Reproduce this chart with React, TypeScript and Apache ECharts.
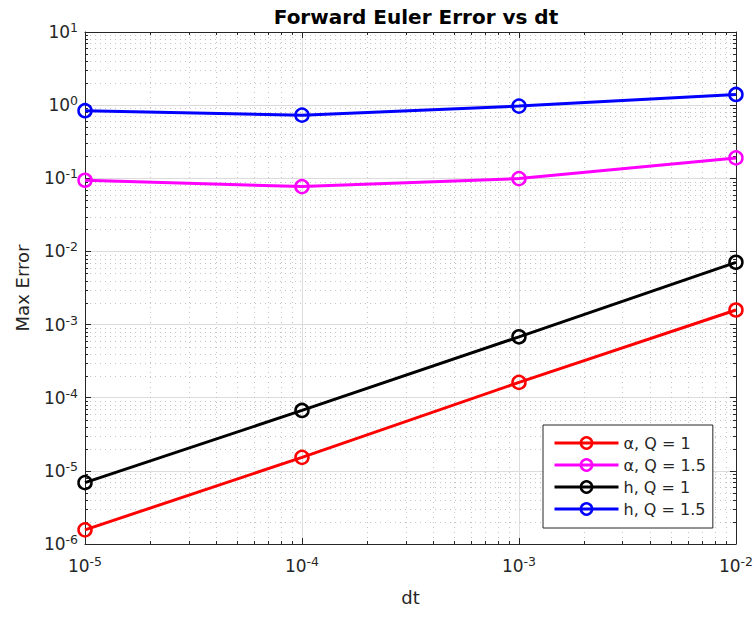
import React, { useEffect, useRef } from "react";
import * as echarts from "echarts";

// Time steps (s) and maximum errors for each case
const dt = [1e-5, 1e-4, 1e-3, 1e-2];
const alphaQ1 = [1.56e-6, 1.53e-5, 1.62e-4, 1.58e-3];
const alphaQ15 = [0.094, 0.077, 0.099, 0.19];
const hQ1 = [6.9e-6, 6.7e-5, 6.8e-4, 7.1e-3];
const hQ15 = [0.84, 0.73, 0.97, 1.4];

const seriesNames = ["α, Q = 1", "α, Q = 1.5", "h, Q = 1", "h, Q = 1.5"];
const seriesColors = ["#ff0000", "#ff00ff", "#000000", "#0000ff"];
const seriesValues = [alphaQ1, alphaQ15, hQ1, hQ15];

// Axis ranges (decades)
const xDecades = [-5, -2];
const yDecades = [-6, 1];

const FONT = "'DejaVu Sans', 'Liberation Sans', Arial, sans-serif";
const TEXT = "#262626";

const expLabel = (v: number) => {
  const e = Math.round(Math.log10(v));
  return `{b|10}{s|${e}}`;
};

const labelRich = {
  b: { fontSize: 17, color: TEXT, fontFamily: FONT },
  s: { fontSize: 12.5, color: TEXT, fontFamily: FONT, padding: [0, 0, 9, 0] },
};

export default function App() {
  const ref = useRef<HTMLDivElement>(null);

  useEffect(() => {
    if (!ref.current) return;
    const chart = echarts.init(ref.current, undefined, { renderer: "svg" });

    const xMin = Math.pow(10, xDecades[0]);
    const xMax = Math.pow(10, xDecades[1]);
    const yMin = Math.pow(10, yDecades[0]);
    const yMax = Math.pow(10, yDecades[1]);

    // Minor log values (2..9 within each decade)
    const minorVals = (d0: number, d1: number) => {
      const out: number[] = [];
      for (let d = d0; d < d1; d++) {
        for (let k = 2; k <= 9; k++) out.push(k * Math.pow(10, d));
      }
      return out;
    };
    const xMinor = minorVals(xDecades[0], xDecades[1]);
    const yMinor = minorVals(yDecades[0], yDecades[1]);

    // Minor grid (dotted) and minor ticks on all four sides of the box
    const minorLayer = {
      type: "custom",
      coordinateSystem: "cartesian2d",
      silent: true,
      z: 1,
      data: [[xMin, yMin]],
      renderItem: (params: any, api: any) => {
        const cs = params.coordSys;
        const left = cs.x;
        const right = cs.x + cs.width;
        const top = cs.y;
        const bottom = cs.y + cs.height;
        const children: any[] = [];
        const dotted = { stroke: "#c4c4c4", lineWidth: 1, lineDash: [1, 4] };
        const tick = { stroke: TEXT, lineWidth: 1 };
        const tl = 3;
        xMinor.forEach((v) => {
          const x = Math.round(api.coord([v, yMin])[0]) + 0.5;
          children.push({ type: "line", shape: { x1: x, y1: top, x2: x, y2: bottom }, style: dotted });
          children.push({ type: "line", shape: { x1: x, y1: bottom, x2: x, y2: bottom - tl }, style: tick });
          children.push({ type: "line", shape: { x1: x, y1: top, x2: x, y2: top + tl }, style: tick });
        });
        yMinor.forEach((v) => {
          const y = Math.round(api.coord([xMin, v])[1]) + 0.5;
          children.push({ type: "line", shape: { x1: left, y1: y, x2: right, y2: y }, style: dotted });
          children.push({ type: "line", shape: { x1: left, y1: y, x2: left + tl, y2: y }, style: tick });
          children.push({ type: "line", shape: { x1: right, y1: y, x2: right - tl, y2: y }, style: tick });
        });
        return { type: "group", children };
      },
    };

    const lineSeries = seriesNames.map((name, i) => ({
      name,
      type: "line",
      z: 3,
      data: dt.map((x, j) => [x, seriesValues[i][j]]),
      symbol: "circle",
      symbolSize: 13,
      lineStyle: { color: seriesColors[i], width: 3 },
      itemStyle: { color: "rgba(255,255,255,0)", borderColor: seriesColors[i], borderWidth: 2.5 },
      emphasis: { disabled: true },
    }));

    const baseAxis = {
      type: "log",
      logBase: 10,
      axisLine: { show: true, lineStyle: { color: TEXT, width: 1 } },
      axisTick: { show: true, inside: true, length: 6, lineStyle: { color: TEXT } },
    };

    chart.setOption({
      animation: false,
      backgroundColor: "#ffffff",
      title: {
        text: "Forward Euler Error vs dt",
        left: 411,
        top: 2,
        textAlign: "center",
        textStyle: { fontFamily: FONT, fontSize: 20, fontWeight: "bold", color: "#000000" },
      },
      legend: {
        data: seriesNames,
        orient: "vertical",
        left: 543,
        top: 425,
        padding: [10, 7, 11, 10],
        itemWidth: 64,
        itemHeight: 14,
        itemGap: 6,
        backgroundColor: "#ffffff",
        borderColor: TEXT,
        borderWidth: 1,
        lineStyle: { width: 3 },
        itemStyle: { borderWidth: 2.5 },
        textStyle: { fontFamily: FONT, fontSize: 16, color: TEXT, width: 82 },
      },
      grid: { left: 85, right: 18, top: 32, bottom: 74 },
      xAxis: [
        {
          ...baseAxis,
          min: xMin,
          max: xMax,
          position: "bottom",
          name: "dt",
          nameLocation: "middle",
          nameGap: 44,
          nameTextStyle: { fontFamily: FONT, fontSize: 18, color: TEXT },
          axisLabel: { formatter: expLabel, rich: labelRich, margin: 11 },
          splitLine: { show: true, lineStyle: { color: "#dcdcdc", width: 1 } },
        },
        {
          ...baseAxis,
          min: xMin,
          max: xMax,
          position: "top",
          axisLabel: { show: false },
          splitLine: { show: false },
        },
      ],
      yAxis: [
        {
          ...baseAxis,
          min: yMin,
          max: yMax,
          position: "left",
          name: "Max Error",
          nameLocation: "middle",
          nameGap: 54,
          nameTextStyle: { fontFamily: FONT, fontSize: 18, color: TEXT },
          axisLabel: { formatter: expLabel, rich: labelRich, margin: 7 },
          splitLine: { show: true, lineStyle: { color: "#dcdcdc", width: 1 } },
        },
        {
          ...baseAxis,
          min: yMin,
          max: yMax,
          position: "right",
          axisLabel: { show: false },
          splitLine: { show: false },
        },
      ],
      series: [minorLayer, ...lineSeries],
    });

    return () => chart.dispose();
  }, []);

  return (
    <div
      ref={ref}
      style={{ position: "fixed", left: 0, top: 0, width: 756, height: 618, background: "#ffffff" }}
    />
  );
}
